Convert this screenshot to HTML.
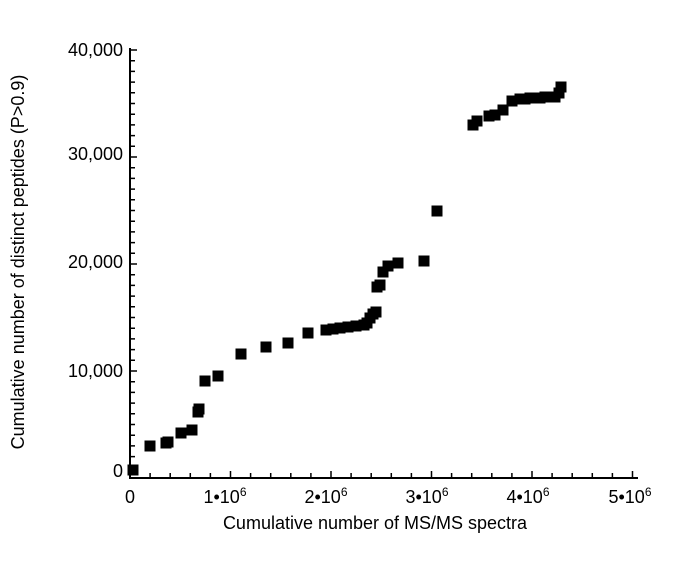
<!DOCTYPE html>
<html><head><meta charset="utf-8"><style>body{margin:0;background:#fff}</style></head>
<body>
<svg width="685" height="579" xmlns="http://www.w3.org/2000/svg" font-family="Liberation Sans, sans-serif">
<rect width="685" height="579" fill="#fff"/>
<g stroke="#000" stroke-width="2" fill="none">
<line x1="130" y1="48" x2="130" y2="479"/>
<line x1="129" y1="478" x2="638" y2="478"/>
</g>
<path stroke="#000" stroke-width="1.5" fill="none" d="M130 467.3h5M130 456.6h5M130 445.9h5M130 435.2h5M130 424.5h5M130 413.8h5M130 403.1h5M130 392.4h5M130 381.7h5M130 371h7M130 360.3h5M130 349.6h5M130 338.9h5M130 328.2h5M130 317.5h5M130 306.8h5M130 296.1h5M130 285.4h5M130 274.7h5M130 264h7M130 253.3h5M130 242.6h5M130 231.9h5M130 221.2h5M130 210.5h5M130 199.8h5M130 189.1h5M130 178.4h5M130 167.7h5M130 157h7M130 146.3h5M130 135.6h5M130 124.9h5M130 114.2h5M130 103.5h5M130 92.8h5M130 82.1h5M130 71.4h5M130 60.7h5M130 50h7
M150.1 478v-5M170.2 478v-5M190.3 478v-5M210.4 478v-5M230.5 478v-7M250.6 478v-5M270.7 478v-5M290.8 478v-5M310.9 478v-5M331 478v-7M351.1 478v-5M371.2 478v-5M391.3 478v-5M411.4 478v-5M431.5 478v-7M451.6 478v-5M471.7 478v-5M491.8 478v-5M511.9 478v-5M532 478v-7M552.1 478v-5M572.2 478v-5M592.3 478v-5M612.4 478v-5M632.5 478v-7"/>
<g font-size="18" fill="#000">
<text x="123" y="477" text-anchor="end">0</text>
<text x="123" y="377" text-anchor="end">10,000</text>
<text x="123" y="268" text-anchor="end">20,000</text>
<text x="123" y="160" text-anchor="end">30,000</text>
<text x="123" y="56" text-anchor="end">40,000</text>
<text x="130" y="503" text-anchor="middle">0</text>
<text x="225" y="503" text-anchor="middle">1•10<tspan font-size="12" dy="-7">6</tspan></text>
<text x="326" y="503" text-anchor="middle">2•10<tspan font-size="12" dy="-7">6</tspan></text>
<text x="427" y="503" text-anchor="middle">3•10<tspan font-size="12" dy="-7">6</tspan></text>
<text x="528" y="503" text-anchor="middle">4•10<tspan font-size="12" dy="-7">6</tspan></text>
<text x="630" y="503" text-anchor="middle">5•10<tspan font-size="12" dy="-7">6</tspan></text>
<text x="375" y="529" text-anchor="middle">Cumulative number of MS/MS spectra</text>
<text transform="translate(24,262) rotate(-90)" text-anchor="middle">Cumulative number of distinct peptides (P&gt;0.9)</text>
</g>
<g fill="#000">
<rect x="127.5" y="464.5" width="11" height="11"/>
<rect x="144.5" y="440.5" width="11" height="11"/>
<rect x="160.5" y="437.5" width="11" height="11"/>
<rect x="162.5" y="436.5" width="11" height="11"/>
<rect x="175.5" y="427.5" width="11" height="11"/>
<rect x="186.5" y="424.5" width="11" height="11"/>
<rect x="192.5" y="406.5" width="11" height="11"/>
<rect x="193.5" y="403.5" width="11" height="11"/>
<rect x="199.5" y="375.5" width="11" height="11"/>
<rect x="212.5" y="370.5" width="11" height="11"/>
<rect x="235.5" y="348.5" width="11" height="11"/>
<rect x="260.5" y="341.5" width="11" height="11"/>
<rect x="282.5" y="337.5" width="11" height="11"/>
<rect x="302.5" y="327.5" width="11" height="11"/>
<rect x="320.5" y="324.5" width="11" height="11"/>
<rect x="327.5" y="323.5" width="11" height="11"/>
<rect x="334.5" y="322.5" width="11" height="11"/>
<rect x="342.5" y="321.5" width="11" height="11"/>
<rect x="350.5" y="320.5" width="11" height="11"/>
<rect x="358.5" y="319.5" width="11" height="11"/>
<rect x="361.5" y="317.5" width="11" height="11"/>
<rect x="364.5" y="312.5" width="11" height="11"/>
<rect x="367.5" y="308.5" width="11" height="11"/>
<rect x="370.5" y="306.5" width="11" height="11"/>
<rect x="371.5" y="281.5" width="11" height="11"/>
<rect x="374.5" y="279.5" width="11" height="11"/>
<rect x="377.5" y="266.5" width="11" height="11"/>
<rect x="382.5" y="260.5" width="11" height="11"/>
<rect x="392.5" y="257.5" width="11" height="11"/>
<rect x="418.5" y="255.5" width="11" height="11"/>
<rect x="431.5" y="205.5" width="11" height="11"/>
<rect x="467.5" y="119.5" width="11" height="11"/>
<rect x="471.5" y="115.5" width="11" height="11"/>
<rect x="483.5" y="110.5" width="11" height="11"/>
<rect x="489.5" y="109.5" width="11" height="11"/>
<rect x="497.5" y="104.5" width="11" height="11"/>
<rect x="506.5" y="95.5" width="11" height="11"/>
<rect x="514.5" y="93.5" width="11" height="11"/>
<rect x="519.5" y="93.5" width="11" height="11"/>
<rect x="524.5" y="92.5" width="11" height="11"/>
<rect x="529.5" y="92.5" width="11" height="11"/>
<rect x="534.5" y="92.5" width="11" height="11"/>
<rect x="539.5" y="91.5" width="11" height="11"/>
<rect x="544.5" y="91.5" width="11" height="11"/>
<rect x="549.5" y="91.5" width="11" height="11"/>
<rect x="553.5" y="87.5" width="11" height="11"/>
<rect x="555.5" y="81.5" width="11" height="11"/>
</g>
</svg>
</body></html>
